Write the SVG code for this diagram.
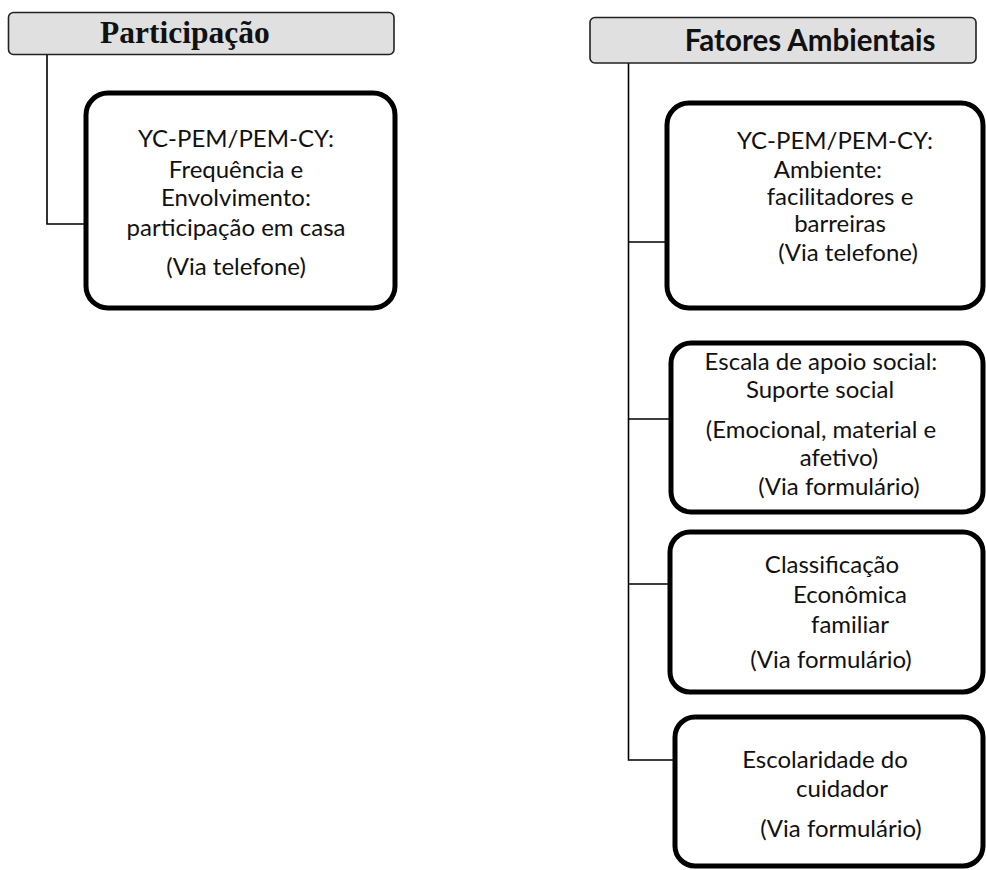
<svg xmlns="http://www.w3.org/2000/svg" width="986" height="870" viewBox="0 0 986 870">
<style>
.hdr{fill:#e0e0e0;stroke:#222;stroke-width:1.6}
.box{fill:#fff;stroke:#000;stroke-width:5}
.conn{fill:none;stroke:#000;stroke-width:1.6}
.t{font-family:Lato,"Open Sans",sans-serif;font-size:24px;fill:#111;text-anchor:middle}
</style>
<rect width="986" height="870" fill="#fff"/>
<g id="connectors">
<path class="conn" d="M47,54.5 V224 H84"/>
<path class="conn" d="M628.5,63 V760 H673 M628.5,242 H665 M628.5,419 H669 M628.5,584 H668"/>
</g>
<g id="participacao">
<rect class="hdr" x="8.5" y="12.5" width="385.5" height="42" rx="5"/>
<text x="100" y="43" style="font-family:'Liberation Serif',serif;font-weight:bold;font-size:31.5px;fill:#111">Participação</text>
</g>
<g id="box-participacao">
<rect class="box" x="86" y="93" width="309" height="215" rx="22"/>
<text class="t" x="236" y="147">YC-PEM/PEM-CY:</text>
<text class="t" x="236" y="178">Frequência e</text>
<text class="t" x="236" y="206">Envolvimento:</text>
<text class="t" x="236" y="236">participação em casa</text>
<text class="t" x="236" y="275">(Via telefone)</text>
</g>
<g id="fatores">
<rect class="hdr" x="590" y="17.5" width="386" height="45.5" rx="5"/>
<text x="810" y="51" style="font-family:Lato,sans-serif;font-weight:bold;font-size:29.5px;fill:#111;text-anchor:middle">Fatores Ambientais</text>
</g>
<g id="box-ambiente">
<rect class="box" x="667" y="103" width="316" height="205" rx="22"/>
<text class="t" x="835" y="149">YC-PEM/PEM-CY:</text>
<text class="t" x="828" y="178">Ambiente:</text>
<text class="t" x="840" y="205">facilitadores e</text>
<text class="t" x="840" y="232">barreiras</text>
<text class="t" x="848" y="261">(Via telefone)</text>
</g>
<g id="box-apoio">
<rect class="box" x="671" y="343" width="312" height="169" rx="20"/>
<text class="t" x="821" y="370">Escala de apoio social:</text>
<text class="t" x="820" y="398">Suporte social</text>
<text class="t" x="821" y="438">(Emocional, material e</text>
<text class="t" x="839" y="466">afetivo)</text>
<text class="t" x="839" y="495">(Via formulário)</text>
</g>
<g id="box-economica">
<rect class="box" x="670" y="532" width="313" height="160" rx="20"/>
<text class="t" x="832" y="573">Classificação</text>
<text class="t" x="850" y="603">Econômica</text>
<text class="t" x="850" y="633">familiar</text>
<text class="t" x="831" y="668">(Via formulário)</text>
</g>
<g id="box-escolaridade">
<rect class="box" x="675" y="717" width="308" height="149" rx="20"/>
<text class="t" x="825" y="768">Escolaridade do</text>
<text class="t" x="842" y="797">cuidador</text>
<text class="t" x="841" y="837">(Via formulário)</text>
</g>
</svg>
